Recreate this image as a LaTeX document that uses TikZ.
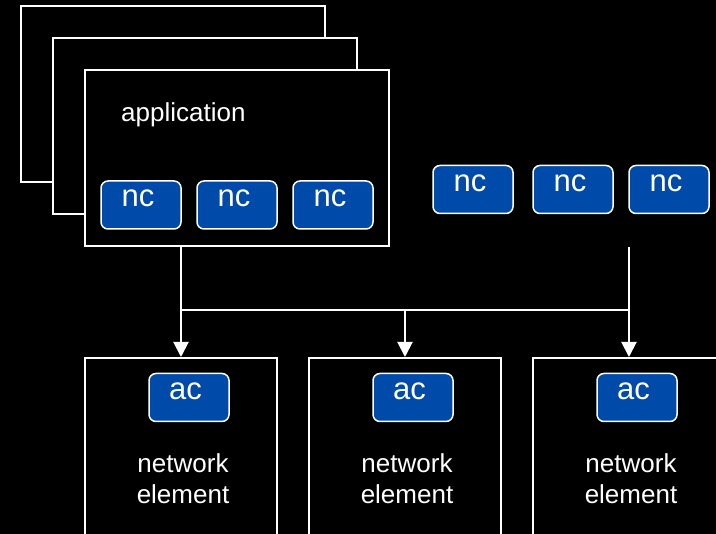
\documentclass[tikz,border=0pt]{standalone}
\usepackage{fontspec}
\setmainfont{Liberation Sans}
\usetikzlibrary{arrows.meta}
\definecolor{ncblue}{RGB}{0,75,170}
\tikzset{
  frame/.style={draw=white, line width=2pt, fill=black, inner sep=0pt},
  chip/.style={draw=white, line width=1.5pt, fill=ncblue, rounded corners=7pt,
    minimum width=80pt, minimum height=48pt, inner sep=0pt, text=white,
    font=\fontsize{31}{36}\selectfont, text height=16pt, text depth=12pt},
  achip/.style={chip, text depth=11pt},
  lbl/.style={text=white, font=\fontsize{26}{31}\selectfont, inner sep=0pt},
  link/.style={draw=white, line width=2pt},
  arr/.style={link, -{Triangle[width=15pt,length=15pt]}},
}
\begin{document}
\begin{tikzpicture}[x=1pt,y=-1pt]
\path[use as bounding box, fill=black] (0,0) rectangle (716,534);
\clip (0,0) rectangle (716,534);
% application stack
\node[frame, minimum width=304pt, minimum height=176pt] (app3) at (173,94) {};
\node[frame, minimum width=304pt, minimum height=176pt] (app2) at (205,126) {};
\node[frame, minimum width=304pt, minimum height=176pt] (app) at (237,158) {};
\node[lbl, anchor=base west] (apptxt) at (121,122) {application};
\node[chip] (nc1) at (141,205) {nc\kern6pt};
\node[chip] (nc2) at (237,205) {nc\kern6pt};
\node[chip] (nc3) at (333,205) {nc\kern6pt};
% free controllers
\node[chip] (nc4) at (473,189.5) {nc\kern6pt};
\node[chip] (nc5) at (573,189.5) {nc\kern6pt};
\node[chip] (nc6) at (669,189.5) {nc\kern6pt};
% network elements
\node[frame, minimum width=192pt, minimum height=202pt] (ne1) at (181,459) {};
\node[frame, minimum width=192pt, minimum height=202pt] (ne2) at (405,459) {};
\node[frame, minimum width=192pt, minimum height=202pt] (ne3) at (629,459) {};
\node[achip] (ac1) at (189,397.5) {ac\kern7pt};
\node[achip] (ac2) at (413,397.5) {ac\kern7pt};
\node[achip] (ac3) at (637,397.5) {ac\kern7pt};
\node[lbl, align=center, anchor=base] (t1) at (183,504) {network\\element};
\node[lbl, align=center, anchor=base] (t2) at (407,504) {network\\element};
\node[lbl, align=center, anchor=base] (t3) at (631,504) {network\\element};
% connectors
\coordinate (bus) at (0,310);
\coordinate (ncsrc) at (629,247);
\draw[link] (ne1.north |- bus) -- (ne3.north |- bus);
\draw[arr] (ne1.north |- app.south) -- (ne1.north);
\draw[arr] (ne2.north |- bus) -- (ne2.north);
\draw[arr] (ncsrc) -- (ne3.north);
\end{tikzpicture}
\end{document}
